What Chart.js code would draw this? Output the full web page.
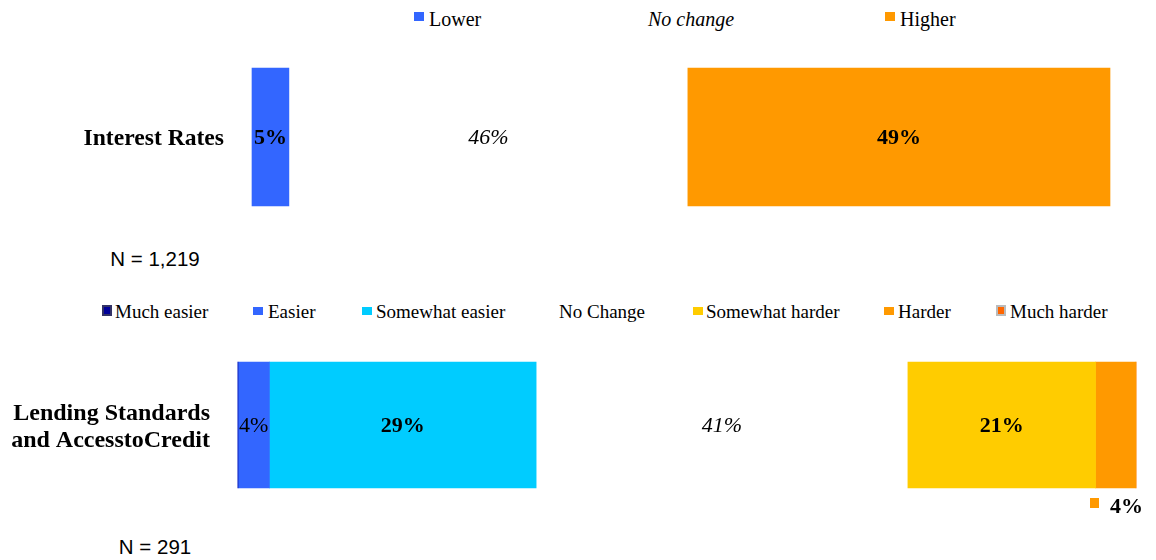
<!DOCTYPE html>
<html>
<head>
<meta charset="utf-8">
<script src="https://cdn.jsdelivr.net/npm/chart.js@4.4.1/dist/chart.umd.min.js"></script>
<style>
  body { margin: 0; background: #fff; }
  #page { position: relative; width: 1156px; height: 560px; overflow: hidden; }
  .box { position: absolute; }
  .txt { position: absolute; white-space: nowrap; line-height: 1; color: #000; font-family: "Liberation Serif", "Times New Roman", serif; }
  .n { position: absolute; width: 200px; text-align: center; font-family: "Liberation Sans", Arial, sans-serif; font-size: 20.5px; line-height: 1; color: #000; }
  .wrap { position: absolute; left: 0; width: 1156px; height: 200px; }
</style>
</head>
<body>
<div id="page">
  <div id="legend1"></div>
  <div class="wrap" style="top:37px"><canvas id="rates"></canvas></div>
  <div class="n" style="left:55px; top:249px">N = 1,219</div>

  <div id="legend2"></div>
  <div class="wrap" style="top:325px"><canvas id="credit"></canvas></div>
  <div class="n" style="left:55px; top:537px">N = 291</div>
</div>
<script>
// interest rates
const rateCats = ['Interest Rates'];
const rateSeries = ['Lower', 'No change', 'Higher'];
const rateLower = [4.3];
const rateNoChange = [46.5];
const rateHigher = [49.2];
const rateLabels = ['5%', '46%', '49%'];

// lending standards
const creditCats = [['Lending Standards', 'and AccesstoCredit']];
const creditSeries = ['Much easier', 'Easier', 'Somewhat easier', 'No Change', 'Somewhat harder', 'Harder', 'Much harder'];
const creditMuchEasier = [0];
const creditEasier = [3.5];
const creditSomewhatEasier = [29.7];
const creditNoChange = [41.4];
const creditSomewhatHarder = [20.9];
const creditHarder = [4.5];
const creditMuchHarder = [0];
const creditLabels = ['', '4%', '29%', '41%', '21%', '4%', ''];

const BLUE = '#3366FF', ORANGE = '#FF9900';
const serif = '"Liberation Serif", "Times New Roman", serif';

// labels inside the bars (or under them for callouts)
const barLabels = {
  id: 'barLabels',
  afterDatasetsDraw(chart) {
    const ctx = chart.ctx;
    chart.data.datasets.forEach((ds, i) => {
      if (!ds.valueLabel) return;
      const el = chart.getDatasetMeta(i).data[0];
      const p = el.getProps(['x', 'y', 'base', 'height'], true);
      ctx.save();
      ctx.font = ds.labelFont;
      if (ds.callout) {
        const bottom = p.y + p.height / 2;
        ctx.fillStyle = ds.backgroundColor;
        ctx.fillRect(p.x - 46, bottom + 10, 9, 10);
        ctx.fillStyle = '#000';
        ctx.textAlign = 'left';
        ctx.textBaseline = 'alphabetic';
        ctx.fillText(ds.valueLabel, p.x - 26, bottom + 25);
      } else {
        ctx.fillStyle = '#000';
        ctx.textAlign = 'center';
        ctx.textBaseline = 'middle';
        ctx.fillText(ds.valueLabel, (p.x + p.base) / 2, p.y + 1.5);
      }
      ctx.restore();
    });
  }
};

function makeChart(id, cats, datasets, leftW, rightPad, thick, tickSize, lineH, offY) {
  // clip off, otherwise the tick label padding eats into the bar
  datasets.forEach(d => { d.barThickness = thick; d.borderWidth = 0; d.clip = false; });
  return new Chart(document.getElementById(id), {
    type: 'bar',
    data: { labels: cats, datasets: datasets },
    options: {
      indexAxis: 'y',
      responsive: true,
      maintainAspectRatio: false,
      animation: false,
      layout: { padding: { left: 0, right: rightPad, top: 0, bottom: 0 } },
      plugins: { legend: { display: false }, tooltip: { enabled: false } },
      scales: {
        x: { display: false, stacked: true, min: 0, max: 100 },
        y: {
          stacked: true,
          grid: { display: false },
          border: { display: false },
          ticks: {
            color: '#000',
            padding: 20,
            labelOffset: offY,
            font: { family: serif, weight: 'bold', size: tickSize, lineHeight: lineH }
          },
          afterFit: (s) => { s.width = leftW; }
        }
      }
    },
    plugins: [barLabels]
  });
}

const bold22 = 'bold 22px ' + serif;
const ital22 = 'italic 22px ' + serif;
const norm22 = '22px ' + serif;

makeChart('rates', rateCats, [
  { label: rateSeries[0], data: rateLower, backgroundColor: BLUE, valueLabel: rateLabels[0], labelFont: bold22 },
  { label: rateSeries[1], data: rateNoChange, backgroundColor: 'rgba(0,0,0,0)', valueLabel: rateLabels[1], labelFont: ital22 },
  { label: rateSeries[2], data: rateHigher, backgroundColor: ORANGE, valueLabel: rateLabels[2], labelFont: bold22 }
], 252, 46, 138, 23.6, 1.2, 2);

makeChart('credit', creditCats, [
  { label: creditSeries[0], data: creditMuchEasier, backgroundColor: '#000099', valueLabel: creditLabels[0] },
  { label: creditSeries[1], data: creditEasier, backgroundColor: BLUE, valueLabel: creditLabels[1], labelFont: norm22 },
  { label: creditSeries[2], data: creditSomewhatEasier, backgroundColor: '#00CCFF', valueLabel: creditLabels[2], labelFont: bold22 },
  { label: creditSeries[3], data: creditNoChange, backgroundColor: 'rgba(0,0,0,0)', valueLabel: creditLabels[3], labelFont: ital22 },
  { label: creditSeries[4], data: creditSomewhatHarder, backgroundColor: '#FFCC00', valueLabel: creditLabels[4], labelFont: bold22 },
  { label: creditSeries[5], data: creditHarder, backgroundColor: ORANGE, valueLabel: creditLabels[5], labelFont: bold22, callout: true },
  { label: creditSeries[6], data: creditMuchHarder, backgroundColor: '#FF6600', valueLabel: creditLabels[6] }
], 238, 20, 126, 24, 1.14, 2);

// html legends
function legend(el, names, items, size, baseline, boxTop, boxH) {
  const root = document.getElementById(el);
  names.forEach((name, i) => {
    const it = items[i];
    if (it.color) {
      const b = document.createElement('div');
      b.className = 'box';
      b.style.left = it.box + 'px';
      b.style.top = (it.big ? boxTop - 2 : boxTop) + 'px';
      b.style.width = '10px';
      b.style.height = (it.big ? boxH + 3 : boxH) + 'px';
      b.style.background = it.color;
      if (it.border) { b.style.boxSizing = 'border-box'; b.style.border = '2px solid ' + it.border; }
      root.appendChild(b);
    }
    const t = document.createElement('div');
    t.className = 'txt';
    t.textContent = name;
    t.style.fontSize = size + 'px';
    t.style.left = it.text + 'px';
    t.style.top = (baseline - size * 0.8375) + 'px';
    if (it.italic) t.style.fontStyle = 'italic';
    root.appendChild(t);
  });
}

legend('legend1', rateSeries, [
  { box: 414, text: 429, color: BLUE },
  { text: 648, italic: true },
  { box: 885, text: 900, color: ORANGE }
], 20, 26, 12, 9);

legend('legend2', creditSeries, [
  { box: 102, text: 115, color: '#000099', border: '#333366', big: true },
  { box: 253, text: 268, color: BLUE },
  { box: 362, text: 376, color: '#00CCFF' },
  { text: 559 },
  { box: 693, text: 706, color: '#FFCC00' },
  { box: 884, text: 898, color: ORANGE },
  { box: 996, text: 1010, color: '#FF6600', border: '#BBBBBB', big: true }
], 19, 318, 307, 8);
</script>
</body>
</html>
